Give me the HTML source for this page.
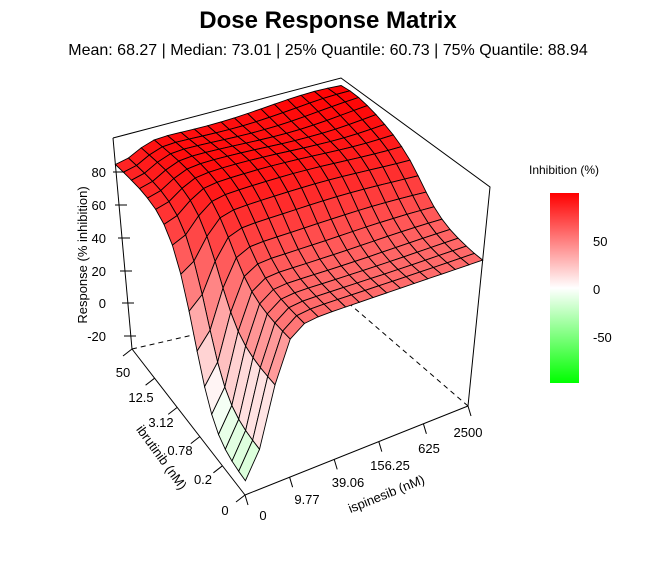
<!DOCTYPE html>
<html><head><meta charset="utf-8"><style>
body{margin:0;background:#fff;}
svg{display:block;font-family:"Liberation Sans",Arial,sans-serif;}
</style></head><body>
<svg id="s" width="657" height="567" viewBox="0 0 657 567" xmlns="http://www.w3.org/2000/svg">
<defs><linearGradient id="cb" x1="0" y1="0" x2="0" y2="1">
<stop offset="0" stop-color="#ff0000"/><stop offset="0.5" stop-color="#ffffff"/><stop offset="1" stop-color="#00ff00"/></linearGradient></defs>
<rect width="657" height="567" fill="#fff"/>
<text x="328" y="28" font-size="24" font-weight="bold" text-anchor="middle">Dose Response Matrix</text>
<text x="328" y="55" font-size="16" text-anchor="middle">Mean: 68.27 | Median: 73.01 | 25% Quantile: 60.73 | 75% Quantile: 88.94</text>
<g stroke="#000" stroke-width="1" fill="none">
<polyline points="113,138 341,78 490,187 468,406"/>
<line x1="113" y1="138" x2="132" y2="349"/>
<line x1="132" y1="349" x2="345" y2="300" stroke-dasharray="5,4"/>
<line x1="468" y1="406" x2="345" y2="300" stroke-dasharray="5,4"/>
<line x1="245" y1="495" x2="132" y2="349"/>
<line x1="245" y1="495" x2="468" y2="406"/>
</g>
<g id="surf" stroke="#000" stroke-width="0.9"></g>
<g font-size="13" text-anchor="end">
<text x="106" y="177">80</text><text x="106" y="210">60</text><text x="106" y="243">40</text>
<text x="106" y="276">20</text><text x="106" y="308">0</text><text x="106" y="341">-20</text>
</g>
<g stroke="#000"><line x1="113" y1="172" x2="125" y2="172"/><line x1="115" y1="205" x2="127" y2="205"/><line x1="118" y1="238" x2="130" y2="238"/><line x1="120" y1="271" x2="132" y2="271"/><line x1="122" y1="303" x2="134" y2="303"/><line x1="124" y1="336" x2="136" y2="336"/></g>
<text transform="translate(87,255) rotate(-90)" font-size="13" text-anchor="middle">Response (% inhibition)</text>
<g font-size="13" text-anchor="middle">
<text x="225" y="515">0</text><text x="203" y="484">0.2</text><text x="180" y="455">0.78</text>
<text x="161" y="427">3.12</text><text x="141" y="402">12.5</text><text x="123" y="377">50</text>
<text x="263" y="520">0</text><text x="307" y="504">9.77</text><text x="348" y="487">39.06</text>
<text x="390" y="470">156.25</text><text x="429" y="453">625</text><text x="468" y="437">2500</text>
</g>
<text transform="translate(158,460) rotate(54)" font-size="13" text-anchor="middle">ibrutinib (nM)</text>
<text transform="translate(388,498) rotate(-22)" font-size="13" text-anchor="middle">ispinesib (nM)</text>
<g id="ticks" stroke="#000"></g>
<rect x="550" y="193" width="29" height="190" fill="url(#cb)"/>
<text x="564" y="174" font-size="12" text-anchor="middle">Inhibition (%)</text>
<g font-size="13"><text x="593" y="246">50</text><text x="593" y="294">0</text><text x="593" y="342">-50</text></g>
</svg>
<script>
var F=[245,495],L=[132,349],R=[468,406],B=[345,300];
var Ft=[252,262],Lt=[113,138],Rt=[490,187],Bt=[341,78];
function bil(a,b,c,d,u,v){return[(1-u)*(1-v)*a[0]+u*(1-v)*b[0]+(1-u)*v*c[0]+u*v*d[0],(1-u)*(1-v)*a[1]+u*(1-v)*b[1]+(1-u)*v*c[1]+u*v*d[1]];}
function P(u,v,z){var t=(z+29)/130;var b=bil(F,L,R,B,u,v),tp=bil(Ft,Lt,Rt,Bt,u,v);return[b[0]+(tp[0]-b[0])*t,b[1]+(tp[1]-b[1])*t];}
function sg(x){return 1/(1+Math.exp(-x));}
function Z(u,v){var A=-12+98*sg((u-0.45)*12);var Bv=-12+74*sg((v-0.1)*30);
var z=100-(100-A)*(100-Bv)/100;z+=3*Math.sin(u*9+v*6)*(u*v);return Math.min(z,100);}
function col(z){var t=Math.max(-1,Math.min(1,z/99));var r,g,b;
if(t>=0){r=255;g=b=Math.round(255*(1-t));}else{g=255;r=b=Math.round(255*(1+t));}return"rgb("+r+","+g+","+b+")";}
var N=17,cells=[];
for(var i=0;i<N;i++)for(var j=0;j<N;j++){cells.push([i,j]);}
cells.sort(function(a,b){return (b[0]+b[1])-(a[0]+a[1]);});
var g=document.getElementById('surf'),h="";
cells.forEach(function(c){var i=c[0],j=c[1];var pts=[[i,j],[i+1,j],[i+1,j+1],[i,j+1]];var zs=0,s=[];
pts.forEach(function(p){var u=p[0]/N,v=p[1]/N,z=Z(u,v);zs+=z;var q=P(u,v,z);s.push(q[0].toFixed(1)+","+q[1].toFixed(1));});
h+='<polygon points="'+s.join(" ")+'" fill="'+col(zs/4)+'"/>';});
g.innerHTML=h;
var tk="";for(var k=0;k<6;k++){var u=k/5;var p=bil(F,L,R,B,u,0);tk+='<line x1="'+p[0]+'" y1="'+p[1]+'" x2="'+(p[0]-9)+'" y2="'+(p[1]+7)+'"/>';
var q=bil(F,L,R,B,0,u);tk+='<line x1="'+q[0]+'" y1="'+q[1]+'" x2="'+(q[0]+3)+'" y2="'+(q[1]+10)+'"/>';}
document.getElementById('ticks').innerHTML=tk;
</script>
</body></html>
